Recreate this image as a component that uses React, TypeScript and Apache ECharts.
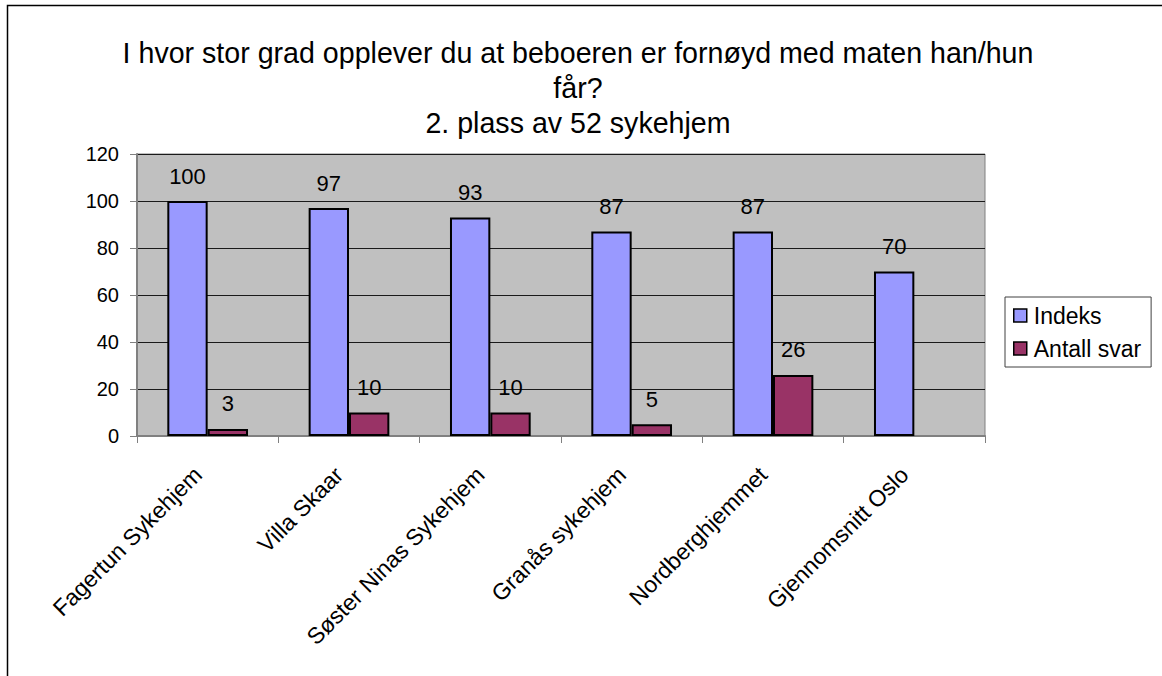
import React, { useEffect, useRef } from "react";
import * as echarts from "echarts";

const categories = [
  "Fagertun Sykehjem",
  "Villa Skaar",
  "Søster Ninas Sykehjem",
  "Granås sykehjem",
  "Nordberghjemmet",
  "Gjennomsnitt Oslo",
];
const indeks = [100, 97, 93, 87, 87, 70];
const antallSvar: (number | string)[] = [3, 10, 10, 5, 26, "-"];
const seriesNames = ["Indeks", "Antall svar"];
const titleLines = [
  "I hvor stor grad opplever du at beboeren er fornøyd med maten han/hun",
  "får?",
  "2. plass av 52 sykehjem",
];

const FONT = "'Liberation Sans', Arial, sans-serif";

export default function App() {
  const ref = useRef<HTMLDivElement>(null);
  useEffect(() => {
    if (!ref.current) return;
    const chart = echarts.init(ref.current, null, { renderer: "svg" });
    const labelStyle = {
      show: true,
      position: "top" as const,
      distance: 14,
      color: "#000",
      fontSize: 22,
      fontFamily: FONT,
    };
    chart.setOption({
      animation: false,
      backgroundColor: "#fff",
      textStyle: { fontFamily: FONT },
      graphic: [
        {
          type: "rect",
          shape: { x: 7.5, y: 5.5, width: 1170, height: 690 },
          style: { fill: "none", stroke: "#000", lineWidth: 1.5 },
          silent: true,
        },
        ...titleLines.map((t, i) => ({
          type: "text",
          x: 578,
          y: 52.5 + i * 35.2,
          style: {
            text: t,
            fill: "#000",
            font: `28.6px ${FONT}`,
            textAlign: "center",
            textVerticalAlign: "middle",
          },
        })),
      ],
      legend: {
        orient: "vertical",
        left: 1005,
        top: 297,
        padding: [7, 10, 7, 8],
        itemGap: 10,
        itemWidth: 13,
        itemHeight: 13,
        icon: "rect",
        borderColor: "#404040",
        borderWidth: 1,
        backgroundColor: "#fff",
        data: seriesNames,
        itemStyle: { borderColor: "#000", borderWidth: 1.5 },
        textStyle: {
          color: "#000",
          fontSize: 23,
          fontFamily: FONT,
          padding: [0, 0, 0, 2],
        },
      },
      grid: {
        left: 137,
        right: 177,
        top: 154,
        bottom: 240,
        show: true,
        backgroundColor: "#C0C0C0",
        borderColor: "#808080",
        borderWidth: 1,
      },
      xAxis: {
        type: "category",
        data: categories,
        axisLine: { show: true, lineStyle: { color: "#808080", width: 2 } },
        axisTick: { show: true, length: 7, lineStyle: { color: "#808080", width: 1 } },
        axisLabel: {
          rotate: 45,
          margin: 25,
          interval: 0,
          color: "#000",
          fontSize: 23,
          fontFamily: FONT,
          padding: [0, 14, 0, 0],
        },
        splitLine: { show: false },
      },
      yAxis: {
        type: "value",
        min: 0,
        max: 120,
        interval: 20,
        axisLine: { show: true, lineStyle: { color: "#808080", width: 2 } },
        axisTick: { show: true, length: 7, lineStyle: { color: "#808080", width: 1 } },
        axisLabel: {
          margin: 18,
          color: "#000",
          fontSize: 20,
          fontFamily: FONT,
        },
        splitLine: { show: true, lineStyle: { color: "#1a1a1a", width: 1 } },
      },
      series: [
        {
          name: seriesNames[0],
          type: "bar",
          data: indeks,
          barGap: "0%",
          barCategoryGap: "42.9%",
          itemStyle: { color: "#9999FF", borderColor: "#000", borderWidth: 2 },
          label: labelStyle,
        },
        {
          name: seriesNames[1],
          type: "bar",
          data: antallSvar,
          barGap: "0%",
          barCategoryGap: "42.9%",
          itemStyle: { color: "#993366", borderColor: "#000", borderWidth: 2 },
          label: labelStyle,
        },
      ],
    });
    return () => chart.dispose();
  }, []);
  return (
    <div
      ref={ref}
      style={{ position: "absolute", left: 0, top: 0, width: 1162, height: 676 }}
    />
  );
}
